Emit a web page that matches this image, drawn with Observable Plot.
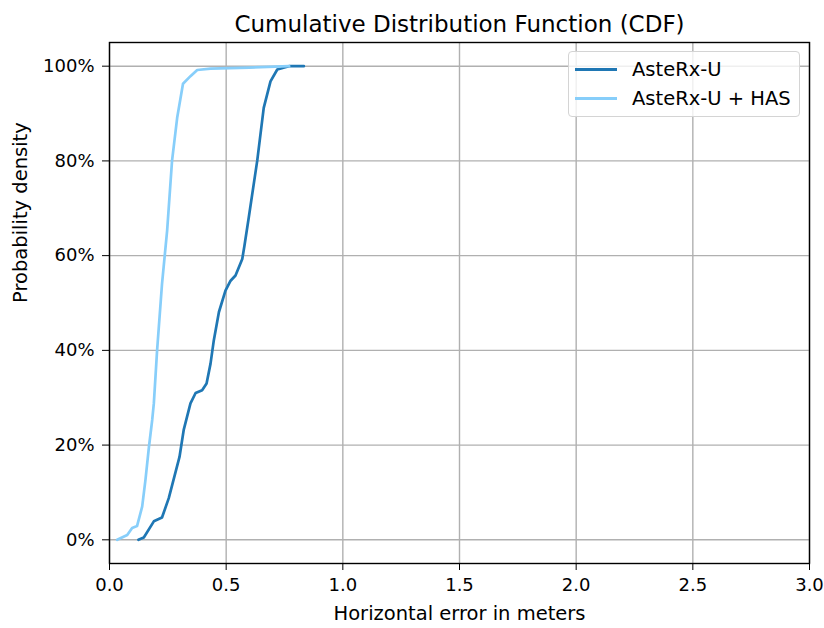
<!DOCTYPE html>
<html><head><meta charset="utf-8">
<script src="https://cdn.jsdelivr.net/npm/d3@7"></script>
<script src="https://cdn.jsdelivr.net/npm/@observablehq/plot@0.6"></script>
<style>
body{margin:0;background:#fff;font-family:"DejaVu Sans",sans-serif;}
#wrap{position:relative;width:824px;height:628px;}
#legend{position:absolute;left:568px;top:51px;width:230px;height:64px;border:1px solid #d4d4d4;border-radius:4px;background:rgba(255,255,255,0.8);font-size:19.5px;color:#000;}
.row{position:absolute;left:6px;height:22px;display:flex;align-items:center;}
.sw{width:42px;height:3px;margin-right:15px;}
</style></head>
<body><div id="wrap"><div id="chart"></div>
<div id="legend">
<div class="row" style="top:6px"><div class="sw" style="background:#1f77b4"></div>AsteRx-U</div>
<div class="row" style="top:35px"><div class="sw" style="background:#87cefa"></div>AsteRx-U + HAS</div>
</div></div>
<script>
const seriesNames = ["AsteRx-U", "AsteRx-U + HAS"];
const darkX = [0.124,0.147,0.19,0.225,0.254,0.30,0.318,0.347,0.369,0.397,0.416,0.433,0.447,0.469,0.497,0.519,0.54,0.569,0.578,0.597,0.633,0.661,0.69,0.719,0.769,0.833];
const darkY = [0,0.005,0.039,0.047,0.088,0.175,0.232,0.288,0.31,0.316,0.33,0.372,0.421,0.481,0.526,0.547,0.558,0.593,0.62,0.681,0.80,0.912,0.968,0.993,1.0,1.0];
const lightX = [0.033,0.076,0.097,0.118,0.14,0.154,0.169,0.183,0.19,0.204,0.225,0.247,0.268,0.29,0.315,0.347,0.376,0.433,0.6,0.77];
const lightY = [0,0.01,0.025,0.029,0.07,0.126,0.196,0.253,0.288,0.40,0.54,0.653,0.80,0.891,0.963,0.979,0.992,0.995,0.997,1.0];
const xTicks = [0,0.5,1,1.5,2,2.5,3];
const yTicks = [0,0.2,0.4,0.6,0.8,1];

const dark = darkX.map((x,i)=>({x, y: darkY[i], s: seriesNames[0]}));
const light = lightX.map((x,i)=>({x, y: lightY[i], s: seriesNames[1]}));

const chart = Plot.plot({
  width: 824, height: 628,
  marginLeft: 109, marginRight: 15, marginTop: 42, marginBottom: 65,
  style: {fontFamily: "DejaVu Sans", fontSize: "18px", color: "#000", background: "#fff"},
  x: {domain: [0,3]},
  y: {domain: [-0.05,1.05]},
  marks: [
    Plot.gridX(xTicks, {stroke: "#b0b0b0", strokeOpacity: 1, strokeWidth: 1.4}),
    Plot.gridY(yTicks, {stroke: "#b0b0b0", strokeOpacity: 1, strokeWidth: 1.4}),
    Plot.axisX(xTicks, {tickFormat: d => d.toFixed(1), tickSize: 7, tickPadding: 8, fontSize: 18, label: null, stroke: "#000"}),
    Plot.axisY(yTicks, {tickFormat: d => Math.round(d*100) + "%", tickSize: 7, tickPadding: 8, fontSize: 18, label: null, stroke: "#000"}),
    Plot.frame({stroke: "#000", strokeWidth: 1.4}),
    Plot.line(dark, {x: "x", y: "y", stroke: "#1f77b4", strokeWidth: 2.7}),
    Plot.line(light, {x: "x", y: "y", stroke: "#87cefa", strokeWidth: 2.7}),
    Plot.text(["Cumulative Distribution Function (CDF)"], {frameAnchor: "top", dy: -27, fontSize: 23, text: d => d}),
    Plot.text(["Horizontal error in meters"], {frameAnchor: "bottom", dy: 56, fontSize: 19.5, text: d => d}),
    Plot.text(["Probability density"], {frameAnchor: "left", dx: -89, rotate: -90, fontSize: 19.5, text: d => d})
  ]
});
document.getElementById("chart").appendChild(chart);
</script></body></html>
